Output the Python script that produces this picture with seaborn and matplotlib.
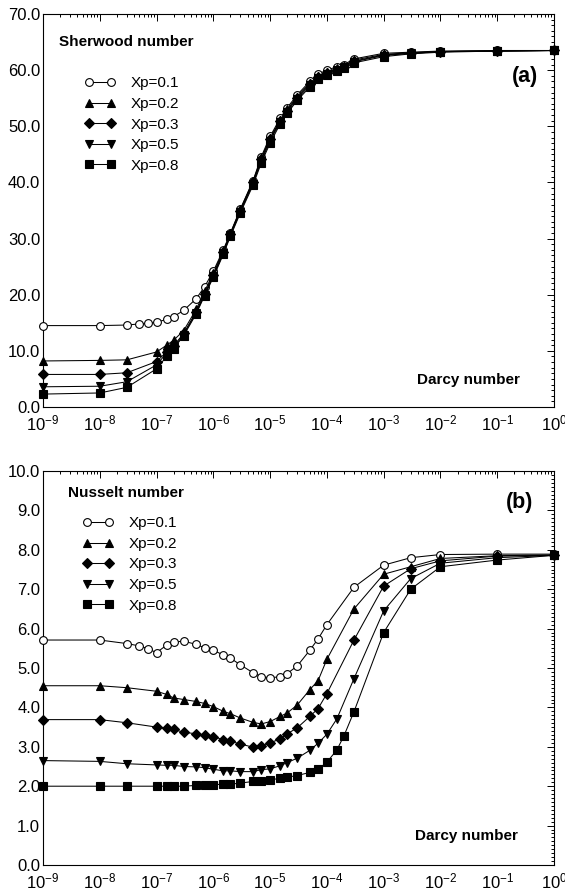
import numpy as np
import pandas as pd
import matplotlib
matplotlib.use('Agg')
import matplotlib.pyplot as plt
import seaborn as sns
from matplotlib.ticker import LogLocator, MultipleLocator, FuncFormatter, NullFormatter, FormatStrFormatter
from matplotlib.lines import Line2D

# ---------------- data ----------------
series_labels = ['Xp=0.1', 'Xp=0.2', 'Xp=0.3', 'Xp=0.5', 'Xp=0.8']

# Darcy-number grids
da_fine = [1e-9, 1e-8, 3e-8, 5e-8, 7e-8, 1e-7, 1.5e-7, 2e-7, 3e-7, 5e-7, 7e-7,
           1e-6, 1.5e-6, 2e-6, 3e-6, 5e-6, 7e-6, 1e-5, 1.5e-5, 2e-5, 3e-5, 5e-5, 7e-5,
           1e-4, 1.5e-4, 2e-4, 3e-4, 1e-3, 3e-3, 1e-2, 1e-1, 1.0]
da_std = [1e-9, 1e-8, 3e-8, 1e-7, 1.5e-7, 2e-7, 3e-7, 5e-7, 7e-7,
          1e-6, 1.5e-6, 2e-6, 3e-6, 5e-6, 7e-6, 1e-5, 1.5e-5, 2e-5, 3e-5, 5e-5, 7e-5,
          1e-4, 1.5e-4, 2e-4, 3e-4, 1e-3, 3e-3, 1e-2, 1e-1, 1.0]

# (a) Sherwood number
sh_01 = [14.5, 14.5, 14.6, 14.8, 14.9, 15.1, 15.6, 16.1, 17.2, 19.3, 21.4,
         24.2, 28.0, 31.0, 35.3, 40.3, 44.6, 48.2, 51.4, 53.3, 55.6, 58.0, 59.3,
         60.0, 60.6, 61.0, 62.0, 63.0, 63.2, 63.4, 63.5, 63.5]
sh_02 = [8.2, 8.3, 8.4, 9.8, 11.0, 11.9, 13.6, 17.4, 20.6,
         23.8, 27.8, 30.9, 35.2, 40.2, 44.3, 47.9, 51.1, 53.0, 55.3, 57.7, 59.0,
         59.7, 60.3, 60.8, 61.8, 62.8, 63.1, 63.3, 63.4, 63.5]
sh_03 = [5.8, 5.8, 6.1, 8.1, 9.8, 10.9, 13.1, 17.0, 20.2,
         23.5, 27.6, 30.8, 35.0, 40.0, 44.1, 47.7, 50.9, 52.8, 55.1, 57.5, 58.8,
         59.5, 60.1, 60.6, 61.6, 62.7, 63.0, 63.3, 63.4, 63.5]
sh_05 = [3.6, 3.7, 4.5, 7.5, 9.6, 10.6, 12.9, 16.8, 20.0,
         23.3, 27.4, 30.6, 34.8, 39.8, 43.8, 47.4, 50.7, 52.6, 54.9, 57.3, 58.6,
         59.4, 60.0, 60.5, 61.5, 62.6, 63.0, 63.3, 63.4, 63.5]
sh_08 = [2.3, 2.5, 3.5, 6.8, 9.0, 10.4, 12.7, 16.6, 19.8,
         23.1, 27.2, 30.4, 34.6, 39.5, 43.5, 47.0, 50.4, 52.3, 54.6, 57.0, 58.4,
         59.2, 59.8, 60.3, 61.3, 62.4, 62.9, 63.2, 63.4, 63.5]

# (b) Nusselt number
da_nu_01 = [1e-9, 1e-8, 3e-8, 5e-8, 7e-8, 1e-7, 1.5e-7, 2e-7, 3e-7, 5e-7, 7e-7,
            1e-6, 1.5e-6, 2e-6, 3e-6, 5e-6, 7e-6, 1e-5, 1.5e-5, 2e-5, 3e-5, 5e-5, 7e-5,
            1e-4, 3e-4, 1e-3, 3e-3, 1e-2, 1e-1, 1.0]
nu_01 = [5.71, 5.71, 5.62, 5.56, 5.49, 5.39, 5.58, 5.66, 5.68, 5.60, 5.51,
         5.45, 5.33, 5.25, 5.08, 4.88, 4.78, 4.75, 4.78, 4.86, 5.05, 5.45, 5.74,
         6.10, 7.05, 7.61, 7.80, 7.88, 7.89, 7.89]
da_nu_23 = [1e-9, 1e-8, 3e-8, 1e-7, 1.5e-7, 2e-7, 3e-7, 5e-7, 7e-7,
            1e-6, 1.5e-6, 2e-6, 3e-6, 5e-6, 7e-6, 1e-5, 1.5e-5, 2e-5, 3e-5, 5e-5, 7e-5,
            1e-4, 3e-4, 1e-3, 3e-3, 1e-2, 1e-1, 1.0]
nu_02 = [4.55, 4.55, 4.50, 4.41, 4.33, 4.24, 4.20, 4.15, 4.10,
         4.02, 3.90, 3.84, 3.73, 3.62, 3.58, 3.64, 3.77, 3.86, 4.06, 4.45, 4.68,
         5.22, 6.50, 7.38, 7.57, 7.78, 7.85, 7.87]
nu_03 = [3.69, 3.69, 3.61, 3.50, 3.47, 3.44, 3.37, 3.33, 3.30,
         3.26, 3.18, 3.14, 3.07, 2.99, 3.03, 3.10, 3.20, 3.33, 3.48, 3.77, 3.97,
         4.35, 5.71, 7.08, 7.52, 7.72, 7.84, 7.86]
da_nu_05 = [1e-9, 1e-8, 3e-8, 1e-7, 1.5e-7, 2e-7, 3e-7, 5e-7, 7e-7,
            1e-6, 1.5e-6, 2e-6, 3e-6, 5e-6, 7e-6, 1e-5, 1.5e-5, 2e-5, 3e-5, 5e-5, 7e-5,
            1e-4, 1.5e-4, 3e-4, 1e-3, 3e-3, 1e-2, 1e-1, 1.0]
nu_05 = [2.65, 2.63, 2.57, 2.54, 2.53, 2.53, 2.50, 2.49, 2.47,
         2.43, 2.39, 2.39, 2.37, 2.37, 2.42, 2.44, 2.52, 2.60, 2.71, 2.91, 3.09,
         3.32, 3.71, 4.73, 6.45, 7.27, 7.66, 7.80, 7.86]
nu_08 = [2.00, 2.00, 2.00, 2.00, 2.00, 2.00, 2.00, 2.02, 2.02,
         2.04, 2.05, 2.05, 2.08, 2.12, 2.14, 2.16, 2.20, 2.23, 2.27, 2.35, 2.43,
         2.61, 2.92, 3.28, 3.89, 5.90, 7.00, 7.57, 7.74, 7.86]

# ---------------- style ----------------
sns.set_theme(style='white')
plt.rcParams['font.family'] = ['Liberation Sans', 'DejaVu Sans']
plt.rcParams['mathtext.fontset'] = 'custom'
plt.rcParams['mathtext.rm'] = 'Liberation Sans'
plt.rcParams['mathtext.it'] = 'Liberation Sans'
plt.rcParams['axes.edgecolor'] = 'black'
plt.rcParams['axes.linewidth'] = 0.8
plt.rcParams['text.color'] = 'black'
plt.rcParams['xtick.color'] = 'black'
plt.rcParams['ytick.color'] = 'black'
plt.rcParams['axes.labelcolor'] = 'black'

markers = ['o', '^', 'D', 'v', 's']
msizes = [5.6, 6.0, 4.8, 6.0, 5.3]
fills = ['white', 'black', 'black', 'black', 'black']

fig = plt.figure(figsize=(5.65, 8.93), dpi=100)
ax_a = fig.add_axes([43 / 565, 1 - 407 / 893, 511 / 565, 393 / 893])
ax_b = fig.add_axes([43 / 565, 1 - 865 / 893, 511 / 565, 394 / 893])


def draw(ax, xs_list, ys_list):
    for xs, ys, lab, m, ms, fc in zip(xs_list, ys_list, series_labels, markers, msizes, fills):
        df = pd.DataFrame({'Darcy': xs, 'val': ys})
        sns.lineplot(data=df, x='Darcy', y='val', ax=ax, color='black', linewidth=0.75,
                     marker=m, markersize=ms, markerfacecolor=fc, markeredgecolor='black',
                     markeredgewidth=0.8, estimator=None, sort=False, legend=False,
                     clip_on=False, zorder=3)


draw(ax_a, [da_fine, da_std, da_std, da_std, da_std], [sh_01, sh_02, sh_03, sh_05, sh_08])
draw(ax_b, [da_nu_01, da_nu_23, da_nu_23, da_nu_05, da_std], [nu_01, nu_02, nu_03, nu_05, nu_08])


def sup_fmt(v, pos):
    e = int(round(np.log10(v)))
    return r'$\mathregular{10^{%d}}$' % e


for ax, ymax, ymaj, ymin in [(ax_a, 70, 10, 1), (ax_b, 10, 1, 0.1)]:
    ax.set_xscale('log')
    ax.set_xlim(1e-9, 1)
    ax.set_ylim(0, ymax)
    ax.xaxis.set_major_locator(LogLocator(base=10, numticks=20))
    ax.xaxis.set_minor_locator(LogLocator(base=10, subs=np.arange(2, 10), numticks=20))
    ax.xaxis.set_major_formatter(FuncFormatter(sup_fmt))
    ax.xaxis.set_minor_formatter(NullFormatter())
    ax.yaxis.set_major_locator(MultipleLocator(ymaj))
    ax.yaxis.set_minor_locator(MultipleLocator(ymin))
    ax.yaxis.set_major_formatter(FormatStrFormatter('%.1f'))
    ax.tick_params(which='both', direction='in', top=True, right=True, color='black',
                   labelcolor='black', width=0.7)
    ax.tick_params(which='major', length=5)
    ax.tick_params(which='minor', length=2.5)
    ax.tick_params(axis='x', labelsize=12, pad=5)
    ax.tick_params(axis='y', labelsize=12, pad=2)
    ax.set_xlabel('')
    ax.set_ylabel('')
    ax.grid(False)
    for s in ax.spines.values():
        s.set_visible(True)
        s.set_color('black')
        s.set_linewidth(0.8)


def make_legend(ax, anchor):
    handles = [Line2D([0], [0], color='black', lw=0.75, marker=m, markersize=ms,
                      markerfacecolor=fc, markeredgecolor='black', markeredgewidth=0.8)
               for m, ms, fc in zip(markers, msizes, fills)]
    leg = ax.legend(handles, series_labels, loc='upper left', bbox_to_anchor=anchor,
                    frameon=False, numpoints=2, handlelength=2.0, handletextpad=1.0,
                    labelspacing=0.43, fontsize=11, borderpad=0, borderaxespad=0)
    for t in leg.get_texts():
        t.set_color('black')


make_legend(ax_a, (0.082, 0.841))
make_legend(ax_b, (0.078, 0.885))

ax_a.text(0.031, 0.929, 'Sherwood number', transform=ax_a.transAxes, fontsize=11,
          fontweight='bold', ha='left', va='center', color='black')
ax_a.text(0.969, 0.84, '(a)', transform=ax_a.transAxes, fontsize=15.5,
          fontweight='bold', ha='right', va='center', color='black')
ax_a.text(0.933, 0.069, 'Darcy number', transform=ax_a.transAxes, fontsize=11,
          fontweight='bold', ha='right', va='center', color='black')

ax_b.text(0.049, 0.944, 'Nusselt number', transform=ax_b.transAxes, fontsize=11,
          fontweight='bold', ha='left', va='center', color='black')
ax_b.text(0.959, 0.921, '(b)', transform=ax_b.transAxes, fontsize=15.5,
          fontweight='bold', ha='right', va='center', color='black')
ax_b.text(0.930, 0.074, 'Darcy number', transform=ax_b.transAxes, fontsize=11,
          fontweight='bold', ha='right', va='center', color='black')

fig.savefig('out.png', dpi=100)
